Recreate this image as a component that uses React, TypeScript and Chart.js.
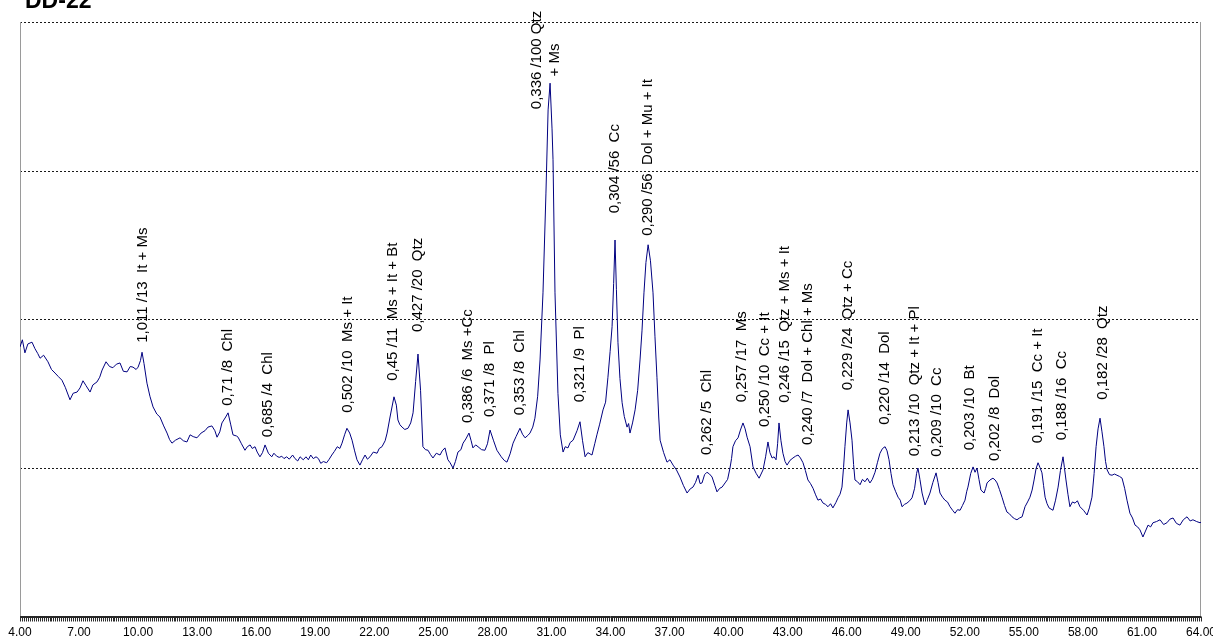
import React, { useEffect, useRef } from "react";
import { Chart, registerables } from "chart.js";

Chart.register(...registerables);

// ---------- DATA ----------
const sampleName = "DD-22";

// x-axis tick labels (°2θ)
const xTickValues = [4, 7, 10, 13, 16, 19, 22, 25, 28, 31, 34, 37, 40, 43, 46, 49, 52, 55, 58, 61, 64];
// horizontal dotted grid levels (relative intensity)
const gridLevels = [25, 50, 75, 100];

// diffractogram, segment 1: 4–24.3 °2θ
const theta1 = [
  4.0, 4.12, 4.25, 4.4, 4.61, 4.76, 4.9, 5.02, 5.2, 5.42, 5.6, 5.78, 5.95, 6.13, 6.3, 6.54, 6.7, 6.9, 7.05, 7.2,
  7.35, 7.56, 7.7, 7.91, 8.05, 8.17, 8.37, 8.55, 8.72, 8.9, 9.08, 9.25, 9.44, 9.6, 9.74, 9.9, 10.0, 10.12, 10.2, 10.3,
  10.45, 10.6, 10.76, 10.95, 11.11, 11.3, 11.47, 11.6, 11.72, 11.9, 12.13, 12.3, 12.48, 12.64, 12.8, 12.99, 13.2, 13.4, 13.55, 13.75,
  13.9, 14.01, 14.15, 14.26, 14.45, 14.57, 14.7, 14.82, 15.0, 15.08, 15.25, 15.43, 15.55, 15.69, 15.8, 15.94, 16.05, 16.19, 16.32, 16.45,
  16.62, 16.79, 16.9, 17.04, 17.17, 17.3, 17.41, 17.55, 17.68, 17.85, 17.97, 18.11, 18.23, 18.39, 18.53, 18.65, 18.77, 18.9, 19.04, 19.16,
  19.28, 19.41, 19.58, 19.71, 19.84, 19.97, 20.12,
  20.25, 20.36, 20.5, 20.61, 20.75, 20.87, 21.0, 21.12, 21.27, 21.4, 21.53, 21.65, 21.78, 21.95, 22.14, 22.25, 22.39, 22.55,
  22.65, 22.8, 23.0, 23.12, 23.2, 23.3, 23.41, 23.55, 23.71, 23.85, 23.97, 24.1, 24.22,
];
const counts1 = [
  45.3, 46.5, 44.3, 45.8, 46.1, 45.0, 44.2, 43.4, 43.9, 42.8, 41.5, 40.9, 40.3, 39.7, 38.5, 36.4, 37.5, 37.7, 38.4, 39.6,
  38.8, 37.7, 38.9, 39.4, 40.2, 41.4, 42.8, 42.0, 41.8, 42.4, 42.6, 41.2, 41.1, 42.0, 41.9, 41.5, 41.9, 43.0, 44.4, 42.5,
  39.2, 37.0, 35.2, 34.0, 33.5, 32.0, 30.8, 29.7, 29.1, 29.6, 30.0, 29.5, 29.3, 30.5, 30.2, 30.0, 30.8, 31.2, 31.8, 32.0,
  31.2, 30.1, 31.0, 32.5, 33.5, 34.2, 32.3, 30.5, 30.3, 30.1, 29.0, 27.9, 28.5, 28.8, 28.2, 28.5, 27.6, 26.8, 27.5, 28.8,
  27.4, 26.8, 27.4, 26.9, 26.7, 26.9, 26.5, 26.8, 26.4, 27.1, 26.5, 26.1, 26.8, 26.3, 26.8, 26.3, 27.1, 26.5, 26.8, 26.5,
  25.7, 26.0, 25.8, 26.4, 27.1, 27.7, 28.5,
  28.2, 29.1, 30.6, 31.6, 30.8, 29.6, 27.8, 26.3, 25.4, 26.3, 27.1, 26.4, 26.8, 27.6, 27.4, 28.2, 28.5, 29.5,
  30.8, 33.5, 36.9, 35.5, 33.0, 32.2, 31.8, 31.4, 31.6, 32.5, 34.2, 39.5, 44.1,
];

// segment 2: 24.3–37.5 °2θ
const theta2 = [
  24.35, 24.47, 24.6, 24.73, 24.85, 24.98, 25.15, 25.34, 25.45, 25.59, 25.74, 25.85, 26.0, 26.12, 26.25, 26.4, 26.51, 26.65, 26.81, 26.92,
  27.01, 27.15, 27.27, 27.45, 27.62, 27.75, 27.88, 28.05, 28.23, 28.45, 28.6, 28.74, 28.9, 29.05, 29.2, 29.4, 29.53, 29.66, 29.8, 29.91,
  30.05, 30.16, 30.3, 30.42, 30.57, 30.72, 30.83, 30.93, 31.03, 31.08, 31.18, 31.33, 31.45, 31.59, 31.7, 31.84, 31.95, 32.1, 32.3, 32.45,
  32.58, 32.71, 32.85, 33.06, 33.2, 33.31, 33.45, 33.62, 33.75, 33.87, 33.98, 34.08, 34.16, 34.23, 34.3, 34.38, 34.48, 34.59, 34.7, 34.84,
  34.92, 34.99, 35.12, 35.25, 35.38, 35.5, 35.6, 35.7, 35.8, 35.91, 36.03, 36.16, 36.26, 36.36, 36.45, 36.52, 36.7, 36.87, 37.02, 37.18,
  37.35, 37.53,
];
const counts2 = [
  38.0, 28.5, 28.0, 27.9, 27.2, 26.6, 27.4, 27.1, 27.8, 28.3, 26.3, 25.8, 24.9, 26.0, 27.6, 28.0, 29.1, 29.8, 30.8, 29.5,
  28.3, 28.8, 28.5, 28.0, 27.9, 29.0, 31.3, 29.6, 27.9, 26.8, 26.2, 25.9, 27.3, 29.1, 30.2, 31.6, 30.6, 30.0, 30.4, 30.8,
  31.8, 33.3, 37.0, 43.1, 54.4, 71.2, 85.2, 89.7, 82.0, 76.8, 54.4, 37.5, 30.5, 27.6, 28.5, 28.3, 29.2, 29.6, 31.2, 32.7,
  29.5, 26.8, 27.5, 27.1, 29.0, 30.5, 32.3, 34.7, 36.0, 40.2, 44.5, 48.7, 56.0, 63.3, 55.0, 46.0, 40.0, 35.9, 33.6, 31.8,
  32.4, 30.8, 32.5, 34.7, 38.0, 43.1, 48.0, 54.4, 59.5, 62.5, 59.8, 54.4, 47.0, 40.2, 33.5, 29.6, 27.5, 25.9, 26.3, 25.4,
  24.6, 23.4,
];

// segment 3: 37.7–64 °2θ
const theta3 = [
  37.7, 37.89, 38.05, 38.19, 38.32, 38.45, 38.55, 38.65, 38.78, 38.9, 39.03, 39.16, 39.3, 39.41, 39.55, 39.67, 39.82, 39.95, 40.07, 40.15,
  40.22, 40.35, 40.48, 40.6, 40.73, 40.84, 40.94, 41.09, 41.24, 41.4, 41.55, 41.75, 41.88, 42.0, 42.1, 42.21, 42.31, 42.41, 42.49, 42.56,
  42.66, 42.76, 42.87, 42.97, 43.12, 43.27, 43.4, 43.53, 43.65, 43.78, 43.9, 44.03, 44.16, 44.29, 44.42, 44.54, 44.67, 44.8, 44.92, 45.05,
  45.18, 45.3, 45.45, 45.56, 45.66, 45.76, 45.84, 45.91, 46.0, 46.07, 46.17, 46.27, 46.35, 46.42, 46.55, 46.68, 46.8, 46.93, 47.05, 47.18,
  47.3, 47.44, 47.56, 47.69, 47.82, 47.95, 48.05, 48.15, 48.25, 48.35, 48.48, 48.61, 48.72, 48.81, 48.94, 49.06, 49.2, 49.32, 49.45, 49.55,
  49.62, 49.72, 49.83, 49.98, 50.1, 50.23, 50.38, 50.54, 50.64, 50.74, 50.87, 50.99, 51.12, 51.25, 51.38, 51.5, 51.63, 51.76, 51.88, 52.01,
  52.1, 52.16, 52.3, 52.42, 52.52, 52.62, 52.72, 52.82, 52.98, 53.06, 53.13, 53.28, 53.43, 53.54, 53.64, 53.76, 53.89, 54.02, 54.14, 54.27,
  54.4, 54.52, 54.65, 54.78, 54.91, 55.06, 55.19, 55.31, 55.42, 55.52, 55.62, 55.72, 55.82, 55.92, 56.0, 56.08, 56.18, 56.28, 56.38, 56.48,
  56.61, 56.74, 56.86, 56.99, 57.06, 57.14, 57.24, 57.34, 57.47, 57.6, 57.72, 57.85, 58.03, 58.21, 58.33, 58.46, 58.57, 58.67, 58.77, 58.87,
  58.97, 59.07, 59.15, 59.23, 59.35, 59.48, 59.6, 59.73, 59.86, 59.99, 60.12, 60.24, 60.39, 60.52, 60.65, 60.78, 60.9, 61.05, 61.18, 61.31,
  61.44, 61.56, 61.74, 61.92, 62.1, 62.27, 62.42, 62.58, 62.75, 62.93, 63.1, 63.29, 63.45, 63.59, 63.78, 63.95, 64.0,
];
const counts3 = [
  22.0, 20.7, 21.4, 21.7, 22.5, 23.7, 22.3, 22.4, 23.8, 24.2, 23.9, 23.4, 22.0, 20.9, 21.5, 21.7, 22.4, 23.0, 24.9, 26.5,
  28.5, 29.5, 30.0, 31.3, 32.5, 31.5, 30.1, 28.5, 25.1, 24.0, 23.2, 24.6, 26.8, 29.3, 27.5, 26.6, 26.8, 26.3, 29.0, 32.5,
  29.5, 27.4, 26.0, 25.4, 26.2, 26.6, 26.9, 27.1, 26.6, 25.8, 24.5, 22.9, 22.3, 21.5, 20.4, 19.5, 19.7, 19.0, 18.8, 18.4,
  18.9, 18.2, 19.1, 19.9, 20.5, 21.7, 25.0, 28.5, 32.5, 34.7, 32.5, 29.6, 25.5, 22.9, 22.6, 22.1, 23.0, 22.6, 23.2, 22.4,
  23.0, 24.2, 25.8, 27.4, 28.2, 28.5, 27.8, 26.3, 24.0, 22.1, 21.0, 20.0, 19.5, 18.4, 18.8, 19.0, 19.4, 19.9, 21.5, 24.0,
  24.9, 23.0, 20.7, 18.7, 19.6, 20.7, 22.5, 24.1, 22.5, 20.7, 20.0, 19.5, 19.2, 18.4, 17.8, 17.3, 17.9, 17.8, 18.6, 19.5,
  21.0, 21.7, 24.0, 25.1, 24.2, 24.9, 23.0, 21.2, 20.7, 21.5, 22.4, 22.9, 23.2, 22.9, 22.4, 21.3, 20.0, 18.6, 17.5, 17.2,
  16.7, 16.4, 16.2, 16.5, 16.7, 18.4, 19.2, 20.0, 21.2, 22.9, 24.8, 25.8, 25.0, 24.1, 22.0, 20.0, 18.9, 18.2, 18.0, 17.8,
  19.5, 21.7, 24.5, 26.8, 25.0, 22.9, 20.5, 18.4, 19.2, 19.0, 19.4, 18.4, 17.8, 17.0, 18.2, 20.0, 24.0, 28.5, 31.5, 33.3,
  31.0, 28.5, 26.0, 24.6, 23.8, 23.7, 23.9, 23.7, 23.5, 23.2, 21.5, 19.5, 17.3, 16.5, 15.3, 15.0, 14.5, 13.3, 14.3, 15.3,
  15.0, 15.7, 15.9, 16.2, 15.4, 15.7, 16.3, 16.5, 15.6, 15.3, 16.2, 16.7, 16.0, 16.2, 15.9, 15.7, 15.8,
];

// peak annotations: position (°2θ), text, intensity level where the rotated text starts
const peakAngles = [
  10.25, 14.57, 16.6, 20.66, 22.95, 24.22, 26.76, 27.88, 29.4, 30.72, 32.45, 34.23, 35.9, 38.9,
  40.68, 41.85, 42.87, 44.03, 46.07, 47.95, 49.47, 50.59, 52.26, 53.53, 55.72, 56.94, 59.02,
];
const peakTexts = [
  "1,011 /13  It + Ms",
  "0,71 /8  Chl",
  "0,685 /4  Chl",
  "0,502 /10  Ms + It",
  "0,45 /11  Ms + It + Bt",
  "0,427 /20  Qtz",
  "0,386 /6  Ms +Cc",
  "0,371 /8  Pl",
  "0,353 /8  Chl",
  "0,336 /100 Qtz\n+ Ms",
  "0,321 /9  Pl",
  "0,304 /56  Cc",
  "0,290 /56  Dol + Mu + It",
  "0,262 /5  Chl",
  "0,257 /17  Ms",
  "0,250 /10  Cc + It",
  "0,246 /15  Qtz + Ms + It",
  "0,240 /7  Dol + Chl + Ms",
  "0,229 /24  Qtz + Cc",
  "0,220 /14  Dol",
  "0,213 /10  Qtz + It + Pl",
  "0,209 /10  Cc",
  "0,203 /10  Bt",
  "0,202 /8  Dol",
  "0,191 /15  Cc + It",
  "0,188 /16  Cc",
  "0,182 /28  Qtz",
];
const peakLabelLevels = [
  46.0, 35.4, 30.1, 34.2, 39.6, 47.8, 32.5, 33.5, 33.8, 93.6, 36.0, 67.8, 64.0, 27.1,
  36.0, 31.8, 35.9, 28.8, 38.0, 32.2, 26.9, 26.8, 27.9, 26.1, 29.1, 29.6, 36.4,
];

// ---------- CHART ----------
const FONT = '"Liberation Sans", Arial, Helvetica, sans-serif';

const decorPlugin = {
  id: "xrdDecor",
  beforeDatasetsDraw(chart: any) {
    const { ctx, chartArea: a, scales } = chart;
    const ys = scales.y;
    ctx.save();
    ctx.lineWidth = 1;
    ctx.strokeStyle = "#1a1a1a";
    ctx.setLineDash([2, 2]);
    for (const v of gridLevels) {
      const py = Math.round(ys.getPixelForValue(v)) + 0.5;
      ctx.beginPath();
      ctx.moveTo(a.left, py);
      ctx.lineTo(a.right, py);
      ctx.stroke();
    }
    ctx.setLineDash([]);
    ctx.strokeStyle = "#9a9a9a";
    ctx.beginPath();
    ctx.moveTo(Math.round(a.left) + 0.5, a.top);
    ctx.lineTo(Math.round(a.left) + 0.5, a.bottom);
    ctx.moveTo(Math.round(a.right) - 0.5, a.top);
    ctx.lineTo(Math.round(a.right) - 0.5, a.bottom);
    ctx.stroke();
    ctx.restore();
  },
  afterDatasetsDraw(chart: any) {
    const { ctx, chartArea: a, scales } = chart;
    const xs = scales.x;
    const ys = scales.y;
    ctx.save();

    // x axis line + dense minor ticks
    ctx.strokeStyle = "#2a2a2a";
    ctx.lineWidth = 1;
    const axY = Math.round(a.bottom) + 0.5;
    ctx.beginPath();
    ctx.moveTo(a.left, axY);
    ctx.lineTo(a.right, axY);
    ctx.moveTo(a.left, axY + 1);
    ctx.lineTo(a.right, axY + 1);
    const xmin = xs.min, xmax = xs.max;
    const nMinor = Math.round((xmax - xmin) * 10);
    for (let i = 0; i <= nMinor; i++) {
      const px = Math.round(xs.getPixelForValue(xmin + i / 10)) + 0.5;
      ctx.moveTo(px, axY);
      ctx.lineTo(px, axY + 5);
    }
    ctx.stroke();

    // x tick labels
    ctx.fillStyle = "#000";
    ctx.font = `12px ${FONT}`;
    ctx.textAlign = "center";
    ctx.textBaseline = "alphabetic";
    for (const v of xTickValues) {
      ctx.fillText(v.toFixed(2), xs.getPixelForValue(v), a.bottom + 20);
    }

    // peak annotations
    ctx.font = `15px ${FONT}`;
    ctx.textBaseline = "middle";
    for (let i = 0; i < peakAngles.length; i++) {
      const px = xs.getPixelForValue(peakAngles[i]);
      const py = ys.getPixelForValue(peakLabelLevels[i]);
      const lines = peakTexts[i].split("\n");
      ctx.save();
      ctx.translate(px, py);
      ctx.rotate(-Math.PI / 2);
      if (lines.length === 1) {
        ctx.textAlign = "left";
        ctx.fillText(lines[0], 0, 0);
      } else {
        ctx.textAlign = "center";
        lines.forEach((ln, k) => ctx.fillText(ln, 0, (k - (lines.length - 1) / 2) * 18));
      }
      ctx.restore();
    }

    // sample title
    ctx.font = `bold 23px ${FONT}`;
    ctx.textAlign = "left";
    ctx.textBaseline = "alphabetic";
    ctx.fillText(sampleName, 25, 8);
    ctx.restore();
  },
};

export default function App() {
  const ref = useRef<HTMLCanvasElement | null>(null);

  useEffect(() => {
    if (!ref.current) return;
    const thetas = [...theta1, ...theta2, ...theta3];
    const counts = [...counts1, ...counts2, ...counts3];
    const points = thetas.map((t, i) => ({ x: t, y: counts[i] }));
    const chart = new Chart(ref.current, {
      type: "line",
      data: {
        datasets: [
          {
            label: sampleName,
            data: points,
            borderColor: "#000080",
            borderWidth: 1,
            pointRadius: 0,
            tension: 0,
            fill: false,
          },
        ],
      },
      options: {
        responsive: false,
        animation: false,
        devicePixelRatio: 1,
        layout: { padding: { left: 20, right: 12, top: 22, bottom: 28 } },
        plugins: { legend: { display: false }, tooltip: { enabled: false }, title: { display: false } },
        scales: {
          x: { type: "linear", min: 4, max: 64, display: false },
          y: { type: "linear", min: 0, max: 100, display: false },
        },
      },
      plugins: [decorPlugin],
    });
    return () => chart.destroy();
  }, []);

  return (
    <div style={{ position: "fixed", left: 0, top: 0, width: 1222, height: 644, background: "#fff" }}>
      <canvas ref={ref} width={1213} height={644} style={{ display: "block", width: 1213, height: 644 }} />
    </div>
  );
}
